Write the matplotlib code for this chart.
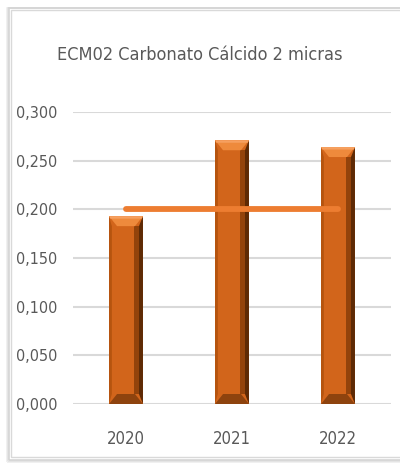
import matplotlib
matplotlib.use("Agg")
import matplotlib.pyplot as plt
from matplotlib.patches import Rectangle, Polygon
from matplotlib.ticker import FuncFormatter
import numpy as np

categories = ["2020", "2021", "2022"]
values = [0.193, 0.271, 0.264]
target = [0.200, 0.200, 0.200]
title = "ECM02 Carbonato Cálcido 2 micras"
yticks = [0.0, 0.05, 0.10, 0.15, 0.20, 0.25, 0.30]

plt.rcParams['font.family'] = ['DejaVu Sans']
plt.rcParams['font.stretch'] = 'condensed'

W, H = 400, 466
fig = plt.figure(figsize=(W / 100, H / 100), dpi=100)
fig.patch.set_facecolor("white")

fw = fig.transFigure
def fx(px): return px / W
def fy(py): return 1 - py / H
for i, c in enumerate(["#EEEEEE", "#E2E2E2", "#D4D4D4"]):
    fig.add_artist(Rectangle((fx(7 + i), fy(462 - i)), fx(400), (462 - i - 8) / H,
                             transform=fw, facecolor="none", edgecolor=c, lw=1.2, zorder=-5))
fig.add_artist(Rectangle((fx(11), fy(457)), fx(395), (457 - 10) / H, transform=fw,
                         facecolor="white", edgecolor="#D9D9D9", lw=1.0, zorder=-4))

ax = fig.add_axes([73 / W, 1 - 404 / H, (391 - 73) / W, (404 - 112) / H])
ax.set_zorder(2)
ax.set_facecolor("none")
x = np.arange(len(categories))
ax.set_xlim(-0.5, len(categories) - 0.5)
ax.set_ylim(0, 0.3)
ax.set_yticks(yticks)
ax.yaxis.set_major_formatter(FuncFormatter(lambda v, p: f"{v:.3f}".replace(".", ",")))
ax.grid(axis="y", color="#D9D9D9", lw=1.5, zorder=0)
ax.set_axisbelow(True)
for s in ax.spines.values():
    s.set_visible(False)
ax.tick_params(axis="both", length=0, colors="#595959")
ax.tick_params(axis="y", pad=11, labelsize=11.5)
ax.tick_params(axis="x", pad=19, labelsize=12)
ax.set_xticks(x)
ax.set_xticklabels(categories)

bars = ax.bar(x, values, width=0.32, color="#D2651B", edgecolor="none", zorder=2)

inv = ax.transData.inverted()
def px2data(dxp, dyp):
    p0 = inv.transform((0, 0))
    p1 = inv.transform((dxp, dyp))
    return p1[0] - p0[0], p1[1] - p0[1]
bx, by = px2data(8, 10)
sx, _ = px2data(4, 0)
for b in bars:
    x0, y0 = b.get_x(), b.get_y()
    w, h = b.get_width(), b.get_height()
    x1, y1 = x0 + w, y0 + h
    ax.add_patch(Polygon([(x0, y0), (x0 + sx * 0.7, y0 + by), (x0 + sx * 0.7, y1 - by), (x0, y1)],
                         closed=True, facecolor="#B5540F", edgecolor="none", zorder=3))
    ax.add_patch(Polygon([(x1, y0), (x1 - sx * 1.0, y0 + by), (x1 - sx * 1.0, y1 - by), (x1, y1)],
                         closed=True, facecolor="#5E2A05", edgecolor="none", zorder=3))
    ax.add_patch(Polygon([(x1 - sx * 1.0, y0 + by), (x1 - sx * 2.2, y0 + by), (x1 - sx * 2.2, y1 - by), (x1 - sx * 1.0, y1 - by)],
                         closed=True, facecolor="#93430B", edgecolor="none", zorder=3))
    ax.add_patch(Polygon([(x0, y1), (x1, y1), (x1 - bx, y1 - by), (x0 + bx, y1 - by)],
                         closed=True, facecolor="#EE8A3C", edgecolor="none", zorder=3))
    ax.add_patch(Polygon([(x0, y1), (x1, y1), (x1 - sx * 0.3, y1 - by * 0.25), (x0 + sx * 0.3, y1 - by * 0.25)],
                         closed=True, facecolor="#F6A060", edgecolor="none", zorder=3))
    ax.add_patch(Polygon([(x0, y0), (x1, y0), (x1 - bx, y0 + by), (x0 + bx, y0 + by)],
                         closed=True, facecolor="#8E430E", edgecolor="none", zorder=3))

ax.plot(x, target, color="#ED7D31", lw=4.2, solid_capstyle="round", zorder=4)

fig.text(0.5, 1 - 55 / H, title, ha="center", va="center", fontsize=13, color="#595959", zorder=3)

fig.savefig("out.png", dpi=100, facecolor="white")
